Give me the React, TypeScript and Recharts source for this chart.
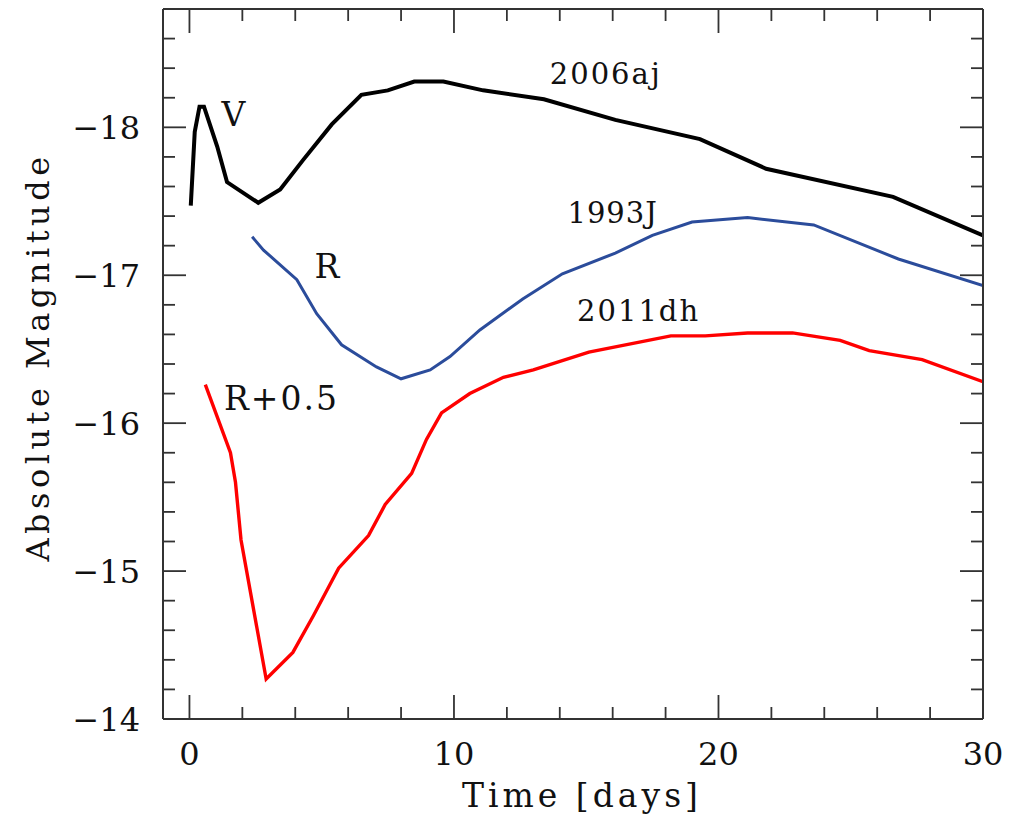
import React from 'react';
import { LineChart, Line, XAxis, YAxis, ReferenceDot } from 'recharts';

// SN 2006aj (V band)
const ajTime = [0.05, 0.2, 0.38, 0.55, 1.05, 1.42, 2.6, 3.43, 4.3, 5.38, 6.5, 7.5, 8.5, 9.6, 11.1, 13.4, 16.1, 19.3, 21.8, 26.6, 30];
const ajMag = [-17.47, -17.97, -18.14, -18.14, -17.87, -17.63, -17.49, -17.58, -17.78, -18.02, -18.22, -18.25, -18.31, -18.31, -18.25, -18.19, -18.05, -17.92, -17.72, -17.53, -17.27];

// SN 1993J (R band)
const j93Time = [2.37, 2.8, 4.06, 4.81, 5.75, 7.07, 8.0, 9.1, 9.85, 10.98, 12.6, 14.1, 16.1, 17.5, 19.0, 21.1, 23.6, 26.8, 30];
const j93Mag = [-17.26, -17.17, -16.97, -16.74, -16.53, -16.38, -16.3, -16.36, -16.45, -16.63, -16.84, -17.01, -17.15, -17.27, -17.36, -17.39, -17.34, -17.11, -16.93];

// SN 2011dh (R + 0.5)
const dhTime = [0.6, 1.55, 1.74, 1.95, 2.9, 3.91, 4.69, 5.64, 6.77, 7.4, 8.4, 8.96, 9.53, 10.6, 11.87, 13.0, 15.1, 18.2, 19.5, 21.1, 22.8, 24.6, 25.7, 27.7, 30];
const dhMag = [-16.26, -15.8, -15.6, -15.21, -14.27, -14.45, -14.7, -15.02, -15.24, -15.45, -15.66, -15.89, -16.07, -16.2, -16.31, -16.36, -16.48, -16.59, -16.59, -16.61, -16.61, -16.56, -16.49, -16.43, -16.28];

const xTicks = [0, 2, 4, 6, 8, 10, 12, 14, 16, 18, 20, 22, 24, 26, 28, 30];
const yTicks = [-18.8, -18.6, -18.4, -18.2, -18, -17.8, -17.6, -17.4, -17.2, -17, -16.8, -16.6, -16.4, -16.2, -16, -15.8, -15.6, -15.4, -15.2, -15, -14.8, -14.6, -14.4, -14.2, -14];

const toPoints = (t: number[], m: number[]) => t.map((v, i) => ({ t: v, m: m[i] }));

const FONT = 'DejaVu Serif';
const TICK = '#333';

const isMajor = (v: number, step: number) => Math.abs(v / step - Math.round(v / step)) < 1e-6;

const BottomTick = (props: any) => {
  const { x, y, payload } = props;
  const major = isMajor(payload.value, 10);
  return (
    <g>
      <line x1={x} y1={y} x2={x} y2={y - (major ? 24 : 12)} stroke={TICK} strokeWidth={1.8} />
      {major && (
        <text x={x} y={y + 46} textAnchor="middle" fontFamily={FONT} fontSize={32} fill="#111">
          {payload.value}
        </text>
      )}
    </g>
  );
};

const TopTick = (props: any) => {
  const { x, y, payload } = props;
  const major = isMajor(payload.value, 10);
  return <line x1={x} y1={y} x2={x} y2={y + (major ? 24 : 12)} stroke={TICK} strokeWidth={1.8} />;
};

const LeftTick = (props: any) => {
  const { x, y, payload } = props;
  const major = isMajor(payload.value, 1);
  return (
    <g>
      <line x1={x} y1={y} x2={x + (major ? 23 : 12)} y2={y} stroke={TICK} strokeWidth={1.8} />
      {major && (
        <text x={x - 23} y={y + 12} textAnchor="end" fontFamily={FONT} fontSize={32} fill="#111">
          {'\u2212' + Math.abs(Math.round(payload.value))}
        </text>
      )}
    </g>
  );
};

const RightTick = (props: any) => {
  const { x, y, payload } = props;
  const major = isMajor(payload.value, 1);
  return <line x1={x} y1={y} x2={x - (major ? 23 : 12)} y2={y} stroke={TICK} strokeWidth={1.8} />;
};

const textLabel = (value: string, size: number, spacing = 0) => ({
  value,
  position: 'center' as const,
  style: { fontFamily: FONT, fontSize: size, letterSpacing: spacing, fill: '#111' },
});

export default function App() {
  return (
    <div style={{ position: 'absolute', left: 0, top: 0, background: '#fff' }}>
      <LineChart width={1013} height={819} margin={{ top: 0, right: 0, bottom: 0, left: 0 }}>
        <XAxis
          xAxisId="bottom"
          dataKey="t"
          type="number"
          domain={[-1, 30]}
          ticks={xTicks}
          interval={0}
          allowDataOverflow
          height={100}
          tickSize={0}
          tickMargin={0}
          tickLine={false}
          axisLine={{ stroke: TICK, strokeWidth: 2 }}
          tick={<BottomTick />}
          label={({ viewBox }: any) => (
            <text x={582} y={viewBox.y + 88} textAnchor="middle" fontFamily={FONT} fontSize={33} letterSpacing={4} fill="#111">
              Time [days]
            </text>
          )}
        />
        <XAxis
          xAxisId="top"
          orientation="top"
          dataKey="t"
          type="number"
          domain={[-1, 30]}
          ticks={xTicks}
          interval={0}
          allowDataOverflow
          height={9}
          tickSize={0}
          tickMargin={0}
          tickLine={false}
          axisLine={{ stroke: TICK, strokeWidth: 2 }}
          tick={<TopTick />}
        />
        <YAxis
          yAxisId="left"
          type="number"
          domain={[-18.8, -14]}
          reversed
          ticks={yTicks}
          interval={0}
          allowDataOverflow
          width={163}
          tickSize={0}
          tickMargin={0}
          tickLine={false}
          axisLine={{ stroke: TICK, strokeWidth: 2 }}
          tick={<LeftTick />}
          label={() => {
            const cx = 38;
            const cy = 357;
            return (
              <text x={cx} y={cy} transform={`rotate(-90 ${cx} ${cy})`} textAnchor="middle" dominantBaseline="central" fontFamily={FONT} fontSize={32} letterSpacing={4.5} fill="#111">
                Absolute Magnitude
              </text>
            );
          }}
        />
        <YAxis
          yAxisId="right"
          orientation="right"
          type="number"
          domain={[-18.8, -14]}
          reversed
          ticks={yTicks}
          interval={0}
          allowDataOverflow
          width={30}
          tickSize={0}
          tickMargin={0}
          tickLine={false}
          axisLine={{ stroke: TICK, strokeWidth: 2 }}
          tick={<RightTick />}
        />

        <Line xAxisId="bottom" yAxisId="left" data={toPoints(ajTime, ajMag)} dataKey="m" type="linear" stroke="#000" strokeWidth={4} dot={false} isAnimationActive={false} />
        <Line xAxisId="bottom" yAxisId="left" data={toPoints(j93Time, j93Mag)} dataKey="m" type="linear" stroke="#2b4c9b" strokeWidth={3} dot={false} isAnimationActive={false} />
        <Line xAxisId="bottom" yAxisId="left" data={toPoints(dhTime, dhMag)} dataKey="m" type="linear" stroke="#ff0000" strokeWidth={3.4} dot={false} isAnimationActive={false} />

        <ReferenceDot xAxisId="bottom" yAxisId="left" x={1.66} y={-18.09} r={0} fill="none" stroke="none" label={textLabel('V', 33)} />
        <ReferenceDot xAxisId="bottom" yAxisId="left" x={15.74} y={-18.36} r={0} fill="none" stroke="none" label={textLabel('2006aj', 29, 2)} />
        <ReferenceDot xAxisId="bottom" yAxisId="left" x={16.0} y={-17.42} r={0} fill="none" stroke="none" label={textLabel('1993J', 29, 1)} />
        <ReferenceDot xAxisId="bottom" yAxisId="left" x={5.2} y={-17.06} r={0} fill="none" stroke="none" label={textLabel('R', 33)} />
        <ReferenceDot xAxisId="bottom" yAxisId="left" x={16.98} y={-16.76} r={0} fill="none" stroke="none" label={textLabel('2011dh', 29, 2)} />
        <ReferenceDot xAxisId="bottom" yAxisId="left" x={3.48} y={-16.17} r={0} fill="none" stroke="none" label={textLabel('R+0.5', 33, 2)} />
      </LineChart>
    </div>
  );
}
